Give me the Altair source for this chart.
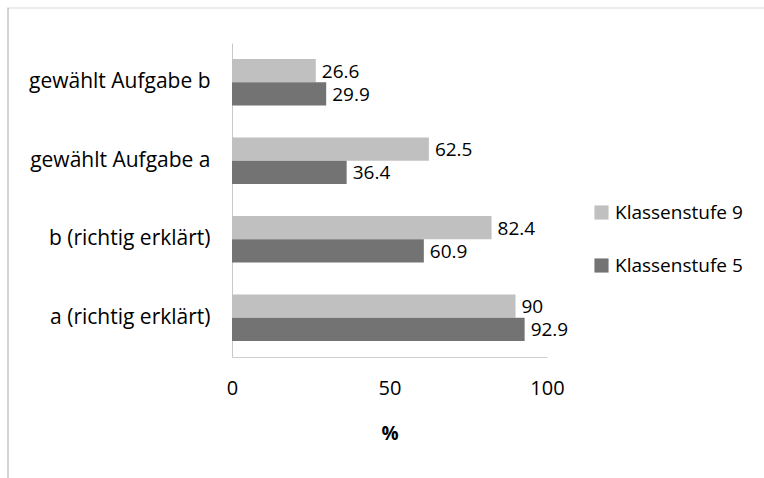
import altair as alt
import pandas as pd

categories = ["gewählt Aufgabe b", "gewählt Aufgabe a", "b (richtig erklärt)", "a (richtig erklärt)"]
series = ["Klassenstufe 9", "Klassenstufe 5"]
klasse9 = [26.6, 62.5, 82.4, 90]
klasse5 = [29.9, 36.4, 60.9, 92.9]

rows = []
for cat, v9, v5 in zip(categories, klasse9, klasse5):
    rows.append({"Kategorie": cat, "Gruppe": series[0], "Wert": v9})
    rows.append({"Kategorie": cat, "Gruppe": series[1], "Wert": v5})
df = pd.DataFrame(rows)
df["Label"] = df["Wert"].map(lambda v: f"{v:g}")

FONT = "Open Sans"
FS = 19
colors = ["#c0c0c0", "#737373"]

y_enc = alt.Y("Kategorie:N", sort=categories, title=None,
              scale=alt.Scale(paddingInner=0.41, paddingOuter=0.205),
              axis=alt.Axis(labelFontSize=21, labelFont=FONT, labelColor="#000000",
                            labelLimit=300, labelPadding=22, ticks=False,
                            domainColor="#c8c8c8", domainWidth=1))
y_off = alt.YOffset("Gruppe:N", sort=series)

bars = alt.Chart(df).mark_bar().encode(
    x=alt.X("Wert:Q", scale=alt.Scale(domain=[0, 100]), title="%",
            axis=alt.Axis(values=[0, 50, 100], grid=False, ticks=False,
                          labelFlush=False, labelFontSize=20, labelFont=FONT,
                          labelColor="#000000", labelPadding=21, domainColor="#d0d0d0",
                          titleFontSize=FS, titleFont=FONT, titleFontWeight="bold",
                          titlePadding=26, titleColor="#000000")),
    y=y_enc,
    yOffset=y_off,
    color=alt.Color("Gruppe:N", sort=series,
                    scale=alt.Scale(domain=series, range=colors),
                    legend=alt.Legend(title=None, orient="none", legendX=360, legendY=160,
                                      symbolType="square", symbolSize=200,
                                      symbolStrokeWidth=0, labelFontSize=FS,
                                      labelFont=FONT, labelColor="#000000",
                                      rowPadding=33, labelOffset=4)),
)

labels = alt.Chart(df).mark_text(align="left", baseline="middle", dx=6, dy=1,
                                 fontSize=FS, font=FONT, color="#000000").encode(
    x="Wert:Q",
    y=alt.Y("Kategorie:N", sort=categories),
    yOffset=y_off,
    text="Label:N",
)

# outer frame lines along the top and left edge of the figure
frame_top = alt.Chart(pd.DataFrame({"k": [0]})).mark_rule(color="#d9d9d9").encode(
    x=alt.value(-225), x2=alt.value(540), y=alt.value(-35))
frame_left = alt.Chart(pd.DataFrame({"k": [0]})).mark_rule(color="#a8a8a8").encode(
    x=alt.value(-224), y=alt.value(-35), y2=alt.value(435))

chart = alt.layer(bars, labels, frame_top, frame_left).properties(
    width=315, height=314,
    background="#ffffff",
    padding={"left": 232, "top": 43, "right": 217, "bottom": 121},
    autosize=alt.AutoSizeParams(type="none"),
).configure_view(strokeWidth=0)

chart.save("out.html", embed_options={"renderer": "svg", "actions": False})
